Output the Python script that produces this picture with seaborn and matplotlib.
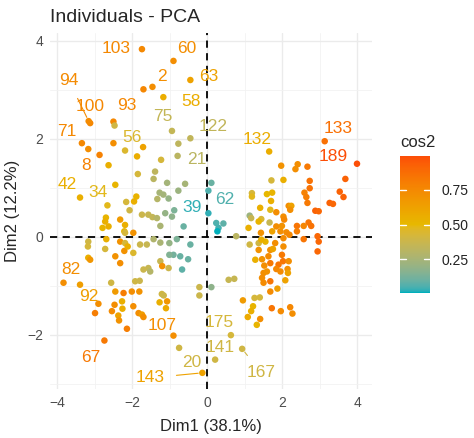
import numpy as np
import pandas as pd
import seaborn as sns
import matplotlib.pyplot as plt
from matplotlib.colors import ListedColormap, Normalize, to_rgb
from matplotlib.cm import ScalarMappable

# labelled individuals first (same order in every list)
names = ["103", "60", "63", "2", "58", "100", "94", "93", "75", "122",
         "71", "56", "8", "21", "42", "34", "62", "39", "107", "20",
         "143", "141", "175", "167", "67", "82", "92", "133", "189", "132"]

dim1 = [-1.74, -0.90, -0.45, -1.46, -1.17, -3.12, -3.16, -2.50, -0.94, -0.45,
        -3.34, -2.19, -2.87, -0.79, -3.39, -2.66, 0.03, 0.03, -0.90, -0.75,
        -0.13, 0.21, 0.63, 0.93, -2.74, -3.83, -3.39, 3.13, 3.99, 1.65,
        # unlabelled, left half
        -1.70, -2.47, -0.77, -3.17, -2.50, -1.71, -1.87, -1.23, -2.63, -1.85,
        -1.39, -1.43, -1.07, -0.59, -2.45, -2.16, -1.95, -1.89, -1.27, -1.17,
        -1.33, -1.03, -0.77, 0.11, -0.88, -1.12, -2.07, -1.74, -1.57, -2.70,
        -2.72, -2.79, -2.63, -2.32, -2.19, -2.21, -1.46, -1.34, -0.94, -1.25,
        -0.63, -0.45, -0.72, -0.67, -0.90, -1.01, -1.01, -1.25, -1.43, -1.61,
        -1.79, -1.25, -1.57, -1.52, -1.70, -1.20, -1.92, -1.80, -0.21, -0.21,
        0.11, -1.21, -1.16, -1.07, -1.27, -1.10, -2.90, -2.99, -2.54, -2.45,
        -2.23, -2.01, -1.81, -2.56, -2.47, -2.27, -2.26, -2.37, -2.35, -2.14,
        -1.97, -1.83, -1.74, -1.70, -3.17, -3.18, -3.17, -3.12, -2.69, -2.72,
        -2.19, -1.97, -2.32, -2.19, -2.45, -2.32, -2.21, -2.12, -1.97, -0.81,
        -0.51, -1.03,
        # unlabelled, right half
        1.97, 2.41, 2.35, 2.67, 1.71, 2.03, 3.68, 2.73, 2.59, 2.64,
        3.53, 3.63, 1.73, 1.59, 1.19, 1.19, 3.26, 3.35, 1.70, 2.17,
        2.24, 2.67, 1.41, 2.21, 2.88, 2.97, 1.68, 1.13, 1.17, 1.44,
        1.37, 1.66, 2.03, 1.84, 2.70, 2.77, 2.57, 2.39, 1.10, 1.43,
        1.73, 1.95, 2.11, 2.19, 2.94, 0.77, 0.24, 0.43, 0.30, 0.27,
        1.13, 1.37, 1.55, 1.44, 1.81, 2.03, 2.03, 1.37, 1.68, 1.75,
        2.57, 2.97, 2.94, 1.28, 1.46, 1.63, 1.68, 1.99, 2.02, 1.90,
        1.84, 1.95, 2.17, 1.52, 1.50, 1.59, 2.14, 2.15, 1.46, 1.50,
        1.68, 2.08, 1.87, 1.68, 0.57, 0.72, 0.95, 1.26, 1.40, 1.22,
        1.17, 1.08, 1.41, 1.32, 1.72, 1.96, 2.21, 2.27, 2.73, 1.84,
        2.05, 1.99, 2.39]

dim2 = [3.83, 3.59, 3.20, 3.06, 2.85, 2.32, 2.36, 2.35, 2.16, 2.01,
        1.91, 1.76, 1.67, 1.65, 0.80, 0.64, 0.94, 0.48, -2.02, -2.27,
        -2.78, -2.51, -2.01, -2.29, -2.12, -0.94, -0.98, 1.95, 1.49, 1.74,
        3.01, 2.27, 1.90, 1.79, 1.91, 1.83, 1.64, 1.57, 1.46, 1.28,
        1.33, 1.18, 1.10, 1.08, 1.06, 0.71, 0.72, 0.82, 0.90, 0.86,
        0.77, 0.78, 0.94, 1.10, 0.54, 0.48, 0.54, 0.45, 0.45, 0.39,
        0.31, 0.18, 0.21, 0.35, 0.24, 0.11, 0.40, 0.38, 0.41, 0.22,
        0.21, -0.16, -0.40, -0.67, -0.37, -0.37, -0.13, -0.12, -0.05, -0.16,
        -0.16, -0.50, -0.64, -0.71, -0.67, -0.60, -0.91, -0.90, -1.03, -1.20,
        -1.03, -1.17, -1.20, -1.32, -1.34, -1.46, -1.37, -1.56, -1.52, -1.12,
        -1.15, -1.12, -1.12, -0.94, -1.39, -1.32, -1.47, -1.61, -1.71, -1.88,
        -1.42, -1.56, -1.59, -1.64, -0.10, -0.20, -0.43, -0.47, -0.05, -0.25,
        0.08, 0.08, -0.10, -0.13, -0.40, -0.54, -0.29, -0.20, -0.33, -0.05,
        -0.46, -0.64,
        1.45, 1.48, 1.38, 1.43, 1.15, 1.16, 1.18, 0.99, 0.90, 0.81,
        0.92, 0.81, 0.90, 0.87, 0.89, 0.82, 0.69, 0.67, 0.73, 0.63,
        0.63, 0.69, 0.59, 0.55, 0.53, 0.52, 0.55, 0.43, 0.38, 0.36,
        0.31, 0.29, 0.41, 0.21, 0.29, 0.22, 0.22, 0.22, 0.18, 0.08,
        0.11, 0.11, 0.09, 0.04, 0.01, 0.01, 0.28, 0.27, 0.18, 0.11,
        -0.16, -0.13, -0.10, -0.06, -0.13, -0.03, -0.20, -0.27, -0.27, -0.25,
        -0.05, -0.10, -0.30, -0.47, -0.46, -0.40, -0.54, -0.37, -0.50, -0.57,
        -0.66, -0.71, -0.50, -0.59, -0.74, -0.71, -0.66, -0.74, -0.84, -0.94,
        -0.91, -0.89, -1.06, -1.12, -0.88, -0.86, -1.30, -1.25, -1.24, -1.42,
        -1.52, -1.64, -1.68, -1.80, -1.46, -1.52, -1.44, -1.57, 1.14, 0.50,
        0.35, 0.22, 0.11]

cos2 = [0.75, 0.72, 0.62, 0.72, 0.56, 0.76, 0.74, 0.76, 0.35, 0.34,
        0.75, 0.45, 0.78, 0.32, 0.55, 0.48, 0.06, 0.03, 0.72, 0.40,
        0.62, 0.40, 0.42, 0.40, 0.82, 0.72, 0.64, 0.86, 0.99, 0.56,
        0.76, 0.40, 0.33, 0.72, 0.72, 0.62, 0.56, 0.42, 0.55, 0.42,
        0.33, 0.32, 0.24, 0.25, 0.52, 0.42, 0.55, 0.53, 0.25, 0.24,
        0.30, 0.20, 0.22, 0.10, 0.14, 0.20, 0.40, 0.38, 0.36, 0.52,
        0.55, 0.52, 0.55, 0.66, 0.55, 0.52, 0.35, 0.30, 0.18, 0.26,
        0.10, 0.10, 0.10, 0.08, 0.12, 0.15, 0.20, 0.26, 0.28, 0.36,
        0.38, 0.36, 0.36, 0.30, 0.38, 0.70, 0.40, 0.38, 0.38, 0.38,
        0.18, 0.40, 0.38, 0.68, 0.55, 0.58, 0.72, 0.80, 0.74, 0.66,
        0.80, 0.72, 0.70, 0.40, 0.72, 0.55, 0.56, 0.62, 0.70, 0.80,
        0.72, 0.72, 0.64, 0.72, 0.40, 0.42, 0.55, 0.68, 0.55, 0.42,
        0.42, 0.70, 0.70, 0.42, 0.70, 0.72, 0.70, 0.55, 0.45, 0.14,
        0.10, 0.38,
        0.70, 0.72, 0.72, 0.82, 0.42, 0.55, 0.92, 0.85, 0.78, 0.80,
        0.92, 0.92, 0.52, 0.50, 0.42, 0.48, 0.92, 0.90, 0.55, 0.72,
        0.62, 0.82, 0.55, 0.72, 0.92, 0.90, 0.48, 0.22, 0.36, 0.44,
        0.52, 0.36, 0.72, 0.72, 0.84, 0.85, 0.76, 0.84, 0.55, 0.70,
        0.62, 0.72, 0.74, 0.76, 0.90, 0.32, 0.06, 0.08, 0.05, 0.01,
        0.40, 0.40, 0.52, 0.55, 0.72, 0.74, 0.72, 0.70, 0.72, 0.62,
        0.84, 0.90, 0.90, 0.55, 0.70, 0.74, 0.82, 0.82, 0.84, 0.84,
        0.76, 0.74, 0.72, 0.72, 0.72, 0.70, 0.72, 0.62, 0.72, 0.74,
        0.84, 0.62, 0.64, 0.74, 0.36, 0.36, 0.66, 0.42, 0.42, 0.52,
        0.55, 0.58, 0.72, 0.52, 0.84, 0.74, 0.76, 0.72, 0.85, 0.72,
        0.76, 0.70, 0.80]

# label offsets in pixels (dx, dy up) as placed by ggrepel
label_offsets = [(-26, 1), (13, 12), (18, 4), (9, 10), (28, -4), (0, 17), (-20, 41),
                 (13, 16), (-9, 14), (23, 12), (-15, 12), (7, 13), (-13, -11),
                 (19, -4), (-13, 13), (-9, 13), (16, -9), (-16, 6), (-11, 10),
                 (13, -15), (-52, -5), (5, 12), (-12, 13), (19, -24), (-14, -17),
                 (7, 13), (9, -12), (13, 13), (-24, 7), (-12, 12)]
with_segment = {"94", "143", "167"}

gradient_cols = ["#00AFBB", "#E7B800", "#FC4E07"]

df = pd.DataFrame({"dim1": dim1, "dim2": dim2, "cos2": cos2})


# ggplot interpolates gradients in CIE Lab, which gives the khaki midtones
def to_lab(rgb):
    rgb = np.asarray(rgb)
    lin = np.where(rgb <= 0.04045, rgb / 12.92, ((rgb + 0.055) / 1.055) ** 2.4)
    m = np.array([[0.4124, 0.3576, 0.1805],
                  [0.2126, 0.7152, 0.0722],
                  [0.0193, 0.1192, 0.9505]])
    xyz = lin @ m.T / np.array([0.95047, 1.0, 1.08883])
    f = np.where(xyz > 0.008856, np.cbrt(xyz), 7.787 * xyz + 16 / 116)
    return np.stack([116 * f[..., 1] - 16, 500 * (f[..., 0] - f[..., 1]),
                     200 * (f[..., 1] - f[..., 2])], axis=-1)


def from_lab(lab):
    fy = (lab[..., 0] + 16) / 116
    fx = fy + lab[..., 1] / 500
    fz = fy - lab[..., 2] / 200
    f = np.stack([fx, fy, fz], axis=-1)
    xyz = np.where(f ** 3 > 0.008856, f ** 3, (f - 16 / 116) / 7.787)
    xyz = xyz * np.array([0.95047, 1.0, 1.08883])
    m = np.array([[3.2406, -1.5372, -0.4986],
                  [-0.9689, 1.8758, 0.0415],
                  [0.0557, -0.2040, 1.0570]])
    lin = np.clip(xyz @ m.T, 0, 1)
    rgb = np.where(lin <= 0.0031308, 12.92 * lin, 1.055 * lin ** (1 / 2.4) - 0.055)
    return np.clip(rgb, 0, 1)


labs = to_lab([to_rgb(c) for c in gradient_cols])
t = np.linspace(0, 1, 256)
pos = np.linspace(0, 1, len(gradient_cols))
lab_ramp = np.stack([np.interp(t, pos, labs[:, k]) for k in range(3)], axis=-1)
cmap = ListedColormap(from_lab(lab_ramp))
norm = Normalize(vmin=min(cos2), vmax=max(cos2))

sns.set_style("white")
plt.rcParams["font.family"] = ["Liberation Sans", "DejaVu Sans"]

fig = plt.figure(figsize=(4.74, 4.38), dpi=100)
ax = fig.add_axes([50 / 474, 1 - 389 / 438, 322 / 474, 356 / 438])

ax.set_xticks([-4, -2, 0, 2, 4])
ax.set_yticks([-2, 0, 2, 4])
ax.set_xticks([-3, -1, 1, 3], minor=True)
ax.set_yticks([-3, -1, 1, 3], minor=True)
ax.grid(which="major", color="#EBEBEB", lw=1.0)
ax.grid(which="minor", color="#F2F2F2", lw=0.6)
ax.set_axisbelow(True)
for s in ax.spines.values():
    s.set_visible(False)
ax.tick_params(which="major", length=3, width=1, color="#333333",
               labelsize=10, labelcolor="#4D4D4D", pad=2)
ax.tick_params(which="minor", length=0)

ax.axhline(0, color="black", ls=(0, (4, 3)), lw=1.3, zorder=1)
ax.axvline(0, color="black", ls=(0, (4, 3)), lw=1.3, zorder=1)

sns.scatterplot(data=df, x="dim1", y="dim2", hue="cos2", palette=cmap,
                hue_norm=norm, s=22, linewidth=0, legend=False, ax=ax, zorder=3)

for i, name in enumerate(names):
    col = cmap(norm(cos2[i]))
    dx, dy = label_offsets[i]
    arrow = None
    if name in with_segment:
        arrow = dict(arrowstyle="-", color=col, lw=0.8, shrinkA=6, shrinkB=3)
    ax.annotate(name, (dim1[i], dim2[i]), xytext=(dx, dy), textcoords="offset pixels",
                ha="center", va="center", fontsize=12.5, color=col,
                arrowprops=arrow, zorder=4)

ax.set_xlim(-4.19, 4.39)
ax.set_ylim(-3.11, 4.16)
ax.set_xlabel("")
ax.set_ylabel("")

fig.text(50 / 474, 1 - 22 / 438, "Individuals - PCA", fontsize=14, va="baseline")
fig.text(211 / 474, 1 - 431 / 438, "Dim1 (38.1%)", fontsize=12, ha="center", va="baseline")
fig.text(12.5 / 474, 1 - 211 / 438, "Dim2 (12.2%)", fontsize=12,
         rotation=90, ha="center", va="center")

cax = fig.add_axes([400 / 474, 1 - 293 / 438, 30 / 474, 137 / 438])
cb = fig.colorbar(ScalarMappable(norm=norm, cmap=cmap), cax=cax)
cb.outline.set_visible(False)
cb.set_ticks([0.25, 0.5, 0.75])
cb.set_ticklabels(["0.25", "0.50", "0.75"])
cax.tick_params(length=0, pad=8, labelsize=10, labelcolor="#222222")
for tk in [0.25, 0.5, 0.75]:
    cax.axhline(tk, xmin=0, xmax=0.2, color="white", lw=1)
    cax.axhline(tk, xmin=0.8, xmax=1, color="white", lw=1)
fig.text(400 / 474, 1 - 147 / 438, "cos2", fontsize=12, va="baseline")

fig.savefig("out.png", dpi=100)
